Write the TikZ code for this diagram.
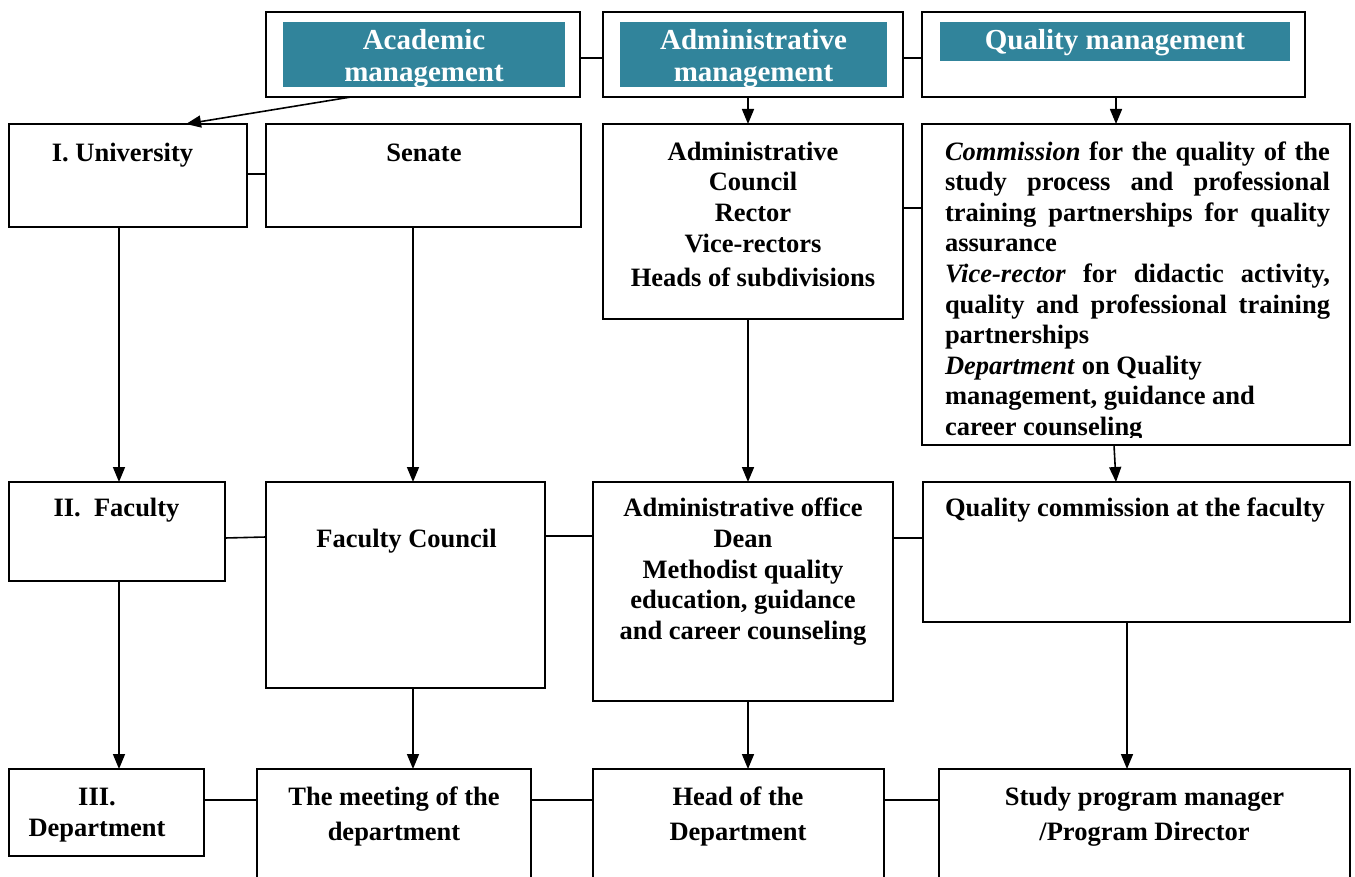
\documentclass[tikz,border=0pt]{standalone}
\usepackage{fontspec}
\setmainfont{Liberation Serif}
\usetikzlibrary{arrows.meta}
\definecolor{tealhead}{HTML}{31849B}
\tikzset{
  box/.style={draw=black, line width=1.6pt, outer sep=0pt, inner sep=0pt, anchor=north west, fill=white},
  tealbox/.style={fill=tealhead, draw=none, outer sep=0pt, inner sep=0pt, anchor=north west},
  txt/.style={font=\bfseries\fontsize{26.5}{30.6}\selectfont, inner sep=0pt, outer sep=0pt, anchor=base, align=center},
  htxt/.style={font=\bfseries\fontsize{29}{32}\selectfont, text=white, inner sep=0pt, outer sep=0pt, anchor=base, align=center},
  link/.style={line width=1.6pt},
  arr/.style={line width=1.6pt, -{Triangle[length=15pt,width=12pt]}},
}
\newcommand\itm[1]{\textit{#1}}
\begin{document}
\begin{tikzpicture}[x=1pt,y=-1pt]
\useasboundingbox (0,0) rectangle (1355,877);
\clip (0,0) rectangle (1355,877);
\fill[white] (0,0) rectangle (1355,877);
% top row
\node[box, minimum width=314pt, minimum height=85pt] (acad) at (266,12) {};
\node[box, minimum width=300pt, minimum height=85pt] (adm) at (603,12) {};
\node[box, minimum width=383pt, minimum height=85pt] (qual) at (922,12) {};
\node[tealbox, minimum width=282pt, minimum height=65pt] (acadT) at (283,22) {};
\node[tealbox, minimum width=267pt, minimum height=65pt] (admT) at (620,22) {};
\node[tealbox, minimum width=350pt, minimum height=39pt] (qualT) at (940,22) {};
% row I
\node[box, minimum width=238pt, minimum height=103pt] (univ) at (9,124) {};
\node[box, minimum width=315pt, minimum height=103pt] (senate) at (266,124) {};
\node[box, minimum width=300pt, minimum height=195pt] (admc) at (603,124) {};
\node[box, minimum width=428pt, minimum height=321pt] (comm) at (922,124) {};
% row II
\node[box, minimum width=216pt, minimum height=99pt] (fac) at (9,482) {};
\node[box, minimum width=279pt, minimum height=206pt] (fc) at (266,482) {};
\node[box, minimum width=300pt, minimum height=219pt] (aoff) at (593,482) {};
\node[box, minimum width=427pt, minimum height=140pt] (qc) at (923,482) {};
% row III
\node[box, minimum width=195pt, minimum height=87pt] (dept) at (9,769) {};
\node[box, minimum width=274pt, minimum height=131pt] (meet) at (257,769) {};
\node[box, minimum width=291pt, minimum height=131pt] (head) at (593,769) {};
\node[box, minimum width=411pt, minimum height=131pt] (study) at (939,769) {};
% horizontal links
\draw[link] ([yshift=-46pt]acad.north east) -- ([yshift=-46pt]adm.north west);
\draw[link] ([yshift=-46pt]adm.north east) -- ([yshift=-46pt]qual.north west);
\draw[link] ([yshift=-50pt]univ.north east) -- ([yshift=-50pt]senate.north west);
\draw[link] ([yshift=-84pt]admc.north east) -- ([yshift=-84pt]comm.north west);
\draw[link] ([yshift=-56pt]fac.north east) -- ([yshift=-55pt]fc.north west);
\draw[link] ([yshift=-54pt]fc.north east) -- ([yshift=-54pt]aoff.north west);
\draw[link] ([yshift=-56pt]aoff.north east) -- ([yshift=-56pt]qc.north west);
\draw[link] ([yshift=-31pt]dept.north east) -- ([yshift=-31pt]meet.north west);
\draw[link] ([yshift=-31pt]meet.north east) -- ([yshift=-31pt]head.north west);
\draw[link] ([yshift=-31pt]head.north east) -- ([yshift=-31pt]study.north west);
% arrows
\draw[arr] ([xshift=85pt]acad.south west) -- ([xshift=177pt]univ.north west);
\draw[arr] ([xshift=145pt]adm.south west) -- ([xshift=145pt]admc.north west);
\draw[arr] ([xshift=194pt]qual.south west) -- ([xshift=194pt]comm.north west);
\draw[arr] ([xshift=110pt]univ.south west) -- ([xshift=110pt]fac.north west);
\draw[arr] ([xshift=147pt]senate.south west) -- ([xshift=147pt]fc.north west);
\draw[arr] ([xshift=145pt]admc.south west) -- ([xshift=155pt]aoff.north west);
\draw[arr] ([xshift=192pt]comm.south west) -- ([xshift=193pt]qc.north west);
\draw[arr] ([xshift=110pt]fac.south west) -- ([xshift=110pt]dept.north west);
\draw[arr] ([xshift=147pt]fc.south west) -- ([xshift=156pt]meet.north west);
\draw[arr] ([xshift=155pt]aoff.south west) -- ([xshift=155pt]head.north west);
\draw[arr] ([xshift=204pt]qc.south west) -- ([xshift=188pt]study.north west);
% header texts (anchor = baseline of last line)
\node[htxt] (acadL) at (424,82) {Academic\\management};
\node[htxt] (admL) at (753.5,82) {Administrative\\management};
\node[htxt] (qualL) at (1115,50) {Quality management};
% texts
\node[txt] (univL) at (122.5,161.7) {I. University};
\node[txt] (senL) at (424,161.7) {Senate};
\node[txt] (admcL) at (753,286.7) {Administrative\\Council\\Rector\\Vice-rectors\\[4pt]Heads of subdivisions};
\begin{scope}
\clip (922,124) rectangle (1350,437);
\node[txt, anchor=base west, align=left] (commL) at (945,435.4) {%
\makebox[385pt][s]{\itm{Commission} for the quality of the}\\
\makebox[385pt][s]{study process and professional}\\
\makebox[385pt][s]{training partnerships for quality}\\
assurance\\
\makebox[385pt][s]{\itm{Vice-rector} for didactic activity,}\\
\makebox[385pt][s]{quality and professional training}\\
partnerships\\
\itm{Department} on Quality\\
management, guidance and\\
career counseling};
\end{scope}
\node[txt] (facL) at (116.5,516.7) {II.\ \ Faculty};
\node[txt] (fcL) at (406.5,547) {Faculty Council};
\node[txt] (aoffL) at (743,639.3) {Administrative office\\Dean\\Methodist quality\\education, guidance\\and career counseling};
\node[txt] (qcL) at (1135,516.7) {Quality commission at the faculty};
\node[txt] (deptL) at (97,836) {III.\\Department};
\node[txt] (meetL) at (394,840) {The meeting of the\\[4.4pt]department};
\node[txt] (headL) at (738,840) {Head of the\\[4.4pt]Department};
\node[txt] (studyL) at (1144.5,840) {Study program manager\\[4.4pt]/Program Director};
\end{tikzpicture}
\end{document}
